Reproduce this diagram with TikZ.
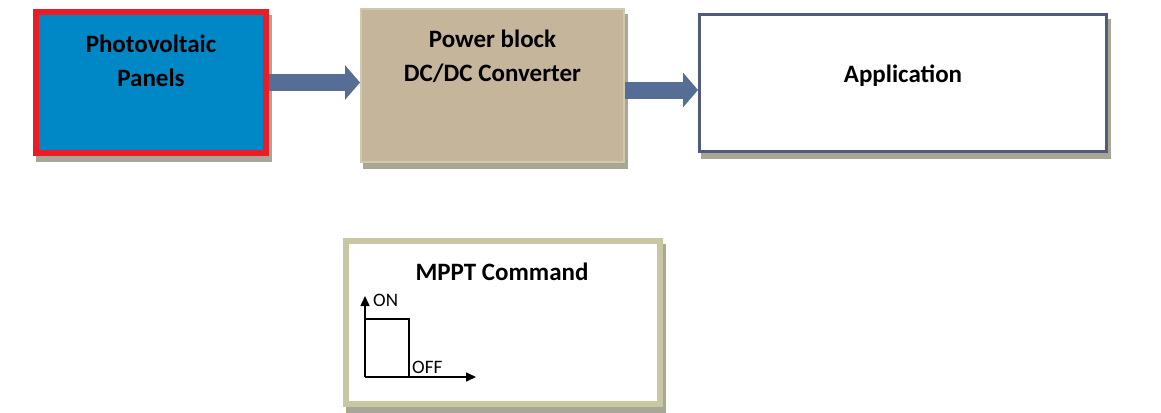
\documentclass[tikz,border=0pt]{standalone}
\usepackage{fontspec}
\setmainfont{Carlito}
\usetikzlibrary{positioning,shadows,arrows.meta}

\definecolor{pvblue}{RGB}{0,136,198}
\definecolor{pvred}{RGB}{237,28,36}
\definecolor{tan}{RGB}{196,181,155}
\definecolor{tanedge}{RGB}{205,203,172}
\definecolor{slate}{RGB}{80,92,122}
\definecolor{khaki}{RGB}{201,198,162}
\definecolor{shadowgray}{RGB}{168,166,148}
\definecolor{arrowblue}{RGB}{86,110,150}

\begin{document}
\begin{tikzpicture}[x=1pt,y=-1pt]
			\tikzstyle{block}=[rectangle, inner sep=0pt, copy shadow={shadow xshift=3pt, shadow yshift=-6pt, fill=shadowgray, draw=shadowgray}]
			\tikzstyle{pv block}=[block, fill=pvblue, draw=pvred, line width=6pt, minimum width=230pt, minimum height=141pt]
			\tikzstyle{power block}=[block, fill=tan, draw=tanedge, line width=2pt, minimum width=263pt, minimum height=153pt]
			\tikzstyle{app block}=[block, fill=white, draw=slate, line width=3pt, minimum width=407pt, minimum height=137pt]
			\tikzstyle{mppt block}=[block, fill=white, draw=khaki, line width=6pt, minimum width=314pt, minimum height=163pt]
			\tikzstyle{annot}=[align=center, font=\bfseries\fontsize{25}{34}\selectfont]
			\tikzstyle{small annot}=[inner sep=0pt, font=\fontsize{19}{19}\selectfont]
			\tikzstyle{fat arrow}=[draw=arrowblue, line width=17pt, -{Triangle[length=15pt,width=34pt]}]
			\tikzstyle{axis}=[draw=black, line width=1.5pt, -{Triangle[length=10pt,width=9pt]}]
			
			% Fix the page size
			\useasboundingbox (0,0) rectangle (1161,412);
			
			% Draw the blocks
			\node[pv block] (PV) at (151,82.5) {};
			\node[power block] (DC) at (492.5,85.5) {};
			\node[app block] (APP) at (903,83) {};
			\node[mppt block] (MPPT) at (503,322.5) {};
			
			% Block texts
			\node[annot] (PV-text) at (151,61) {Photovoltaic\\Panels};
			\node[annot] (DC-text) at (492.5,56.5) {Power block\\DC/DC Converter};
			\node[annot] (APP-text) at (903,76) {Application};
			\node[annot] (MPPT-text) at (502,272) {MPPT Command};
			
			% Connect the blocks
			\draw[fat arrow] (PV.east) -- (PV.east -| DC.west);
			\draw[fat arrow] ([yshift=-4.5pt]DC.east) -- ([yshift=-4.5pt]DC.east -| APP.west);
			
			% Draw the command signal
			\coordinate (O) at (365,377);
			\coordinate (Y) at (365,296);
			\coordinate (X) at (476,377);
			\coordinate (P-1) at (365,319);
			\coordinate (P-2) at (409,319);
			\coordinate (P-3) at (409,377);
			\draw[axis] (O) -- (Y);
			\draw[axis] (O) -- (X);
			\draw[line width=1.5pt] (P-1) -- (P-2) -- (P-3);
			\node[small annot, anchor=west] (ON) at (373,300) {ON};
			\node[small annot, anchor=west] (OFF) at (412,367) {OFF};
		\end{tikzpicture}
\end{document}
